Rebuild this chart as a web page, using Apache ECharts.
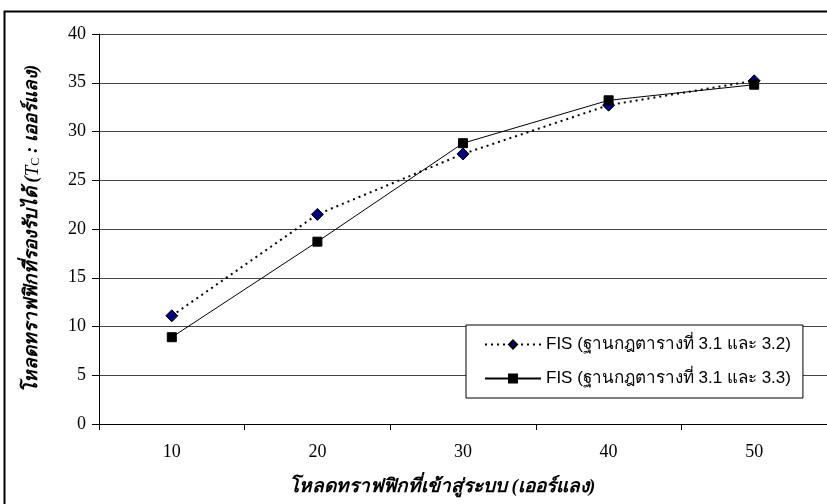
<!DOCTYPE html>
<html>
<head>
<meta charset="utf-8">
<script src="https://cdn.jsdelivr.net/npm/echarts@6/dist/echarts.min.js"></script>
<style>html,body{margin:0;padding:0;background:#fff;}#c{width:827px;height:504px;}</style>
</head>
<body>
<div id="c"></div>
<script>
var categories = ['10', '20', '30', '40', '50'];
var seriesNames = ['FIS (ฐานกฎตารางที่ 3.1 และ 3.2)', 'FIS (ฐานกฎตารางที่ 3.1 และ 3.3)'];
var fis32 = [11.1, 21.5, 27.7, 32.7, 35.2];
var fis33 = [8.9, 18.7, 28.8, 33.2, 34.8];
var yTicks = {min: 0, max: 40, interval: 5};
var xTitle = 'โหลดทราฟฟิกที่เข้าสู่ระบบ (เออร์แลง)';
var yTitlePre = 'โหลดทราฟฟิกที่รองรับได้ (';
var yTitleSym = 'T';
var yTitleSub = 'C';
var yTitlePost = ' : เออร์แลง)';

var chart = echarts.init(document.getElementById('c'), null, {renderer: 'canvas'});
var serif = "'Liberation Serif', 'Times New Roman', serif";
var sans = "'Liberation Sans', Arial, sans-serif";
chart.setOption({
  animation: false,
  backgroundColor: '#fff',
  graphic: [{
    type: 'rect', left: 2, top: 9, shape: {width: 860, height: 520},
    style: {fill: 'none', stroke: '#000', lineWidth: 2}, silent: true, z: 0
  }],
  grid: {left: 99, top: 34, right: -3, bottom: 80},
  legend: {
    orient: 'vertical', left: 466, top: 325,
    backgroundColor: '#fff', borderColor: '#000', borderWidth: 1,
    padding: [11, 12, 11, 18],
    itemWidth: 56, itemHeight: 10, itemGap: 17,
    textStyle: {fontFamily: sans, fontSize: 17, color: '#000'},
    data: seriesNames
  },
  xAxis: {
    type: 'category', data: categories, boundaryGap: true,
    axisLine: {lineStyle: {color: '#000', width: 1}},
    axisTick: {show: true, length: 6, lineStyle: {color: '#000'}},
    axisLabel: {fontFamily: serif, fontSize: 18, color: '#000', margin: 19},
    name: xTitle, nameLocation: 'middle', nameGap: 54,
    nameTextStyle: {fontFamily: serif, fontSize: 19, fontStyle: 'italic', fontWeight: 'bold', color: '#000', padding: [0, 42, 0, 0]}
  },
  yAxis: {
    type: 'value', min: yTicks.min, max: yTicks.max, interval: yTicks.interval,
    axisLine: {show: true, lineStyle: {color: '#000', width: 1}},
    axisTick: {show: true, length: 7, lineStyle: {color: '#000'}},
    axisLabel: {fontFamily: serif, fontSize: 18, color: '#000', margin: 13},
    splitLine: {show: true, lineStyle: {color: '#444', width: 1}},
    name: '{a|' + yTitlePre + '}{b|' + yTitleSym + '}{c|' + yTitleSub + '}{a|' + yTitlePost + '}',
    nameLocation: 'middle', nameRotate: 90, nameGap: 57,
    nameTextStyle: {
      color: '#000',
      rich: {
        a: {fontFamily: serif, fontSize: 19, fontStyle: 'italic', fontWeight: 'bold', color: '#000'},
        b: {fontFamily: serif, fontSize: 19, fontStyle: 'italic', color: '#000'},
        c: {fontFamily: serif, fontSize: 12, color: '#000', padding: [6, 0, 0, 0]}
      }
    }
  },
  series: [{
    name: seriesNames[0], type: 'line', data: fis32,
    symbol: 'diamond', symbolSize: 12,
    itemStyle: {color: '#000080', borderColor: '#000', borderWidth: 1},
    lineStyle: {color: '#000', width: 2, type: [2, 4]},
    z: 3
  }, {
    name: seriesNames[1], type: 'line', data: fis33,
    symbol: 'rect', symbolSize: 9,
    itemStyle: {color: '#000', borderColor: '#000', borderWidth: 1},
    lineStyle: {color: '#000', width: 1, type: 'solid'},
    z: 4
  }]
});
</script>
</body>
</html>
